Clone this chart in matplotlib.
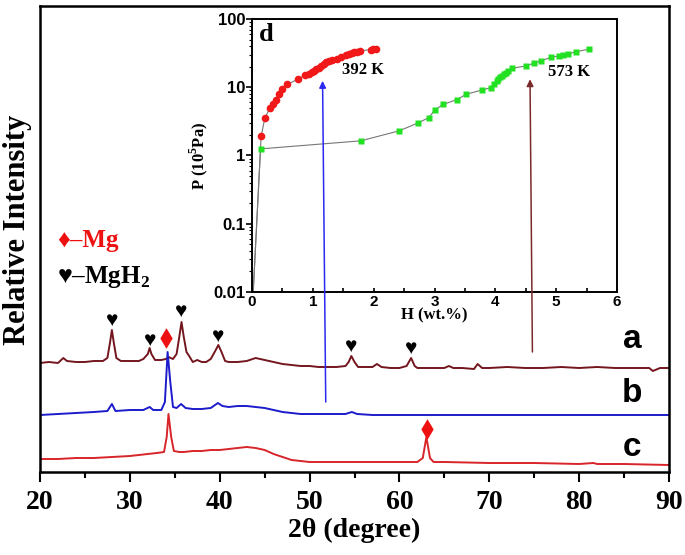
import numpy as np
import matplotlib
matplotlib.use('Agg')
import matplotlib.pyplot as plt
from matplotlib.ticker import MultipleLocator, LogLocator, NullFormatter, FixedLocator

plt.rcParams['mathtext.fontset'] = 'custom'
plt.rcParams['mathtext.rm'] = 'Liberation Serif:bold'
plt.rcParams['mathtext.bf'] = 'Liberation Serif:bold'

SERIF = ['Liberation Serif', 'DejaVu Serif', 'DejaVu Sans']
SANS = ['Liberation Sans', 'DejaVu Sans']

# -----------------------------
# XRD patterns (2theta, relative intensity, arbitrary units)
# -----------------------------
tt_a = [20.0, 21.0, 22.0, 22.6, 23.0, 24.0, 25.0, 26.0, 27.0, 27.5, 27.8, 28.0, 28.2, 28.5,
        29.0, 30.0, 31.0, 31.5, 32.0, 32.2, 32.4, 32.8, 33.5, 34.0, 34.3, 34.8, 35.2, 35.5,
        35.75, 36.0, 36.3, 36.6, 37.0, 37.5, 38.0, 38.5, 39.0, 39.5, 39.85, 40.2, 40.6, 41.0,
        42.0, 43.0, 44.0, 45.0, 46.0, 47.0, 48.0, 49.0, 50.0, 51.0, 52.0, 53.0, 54.0, 54.35,
        54.65, 55.0, 55.4, 56.0, 57.0, 57.5, 58.0, 59.0, 60.0, 60.8, 61.3, 61.7, 62.0, 63.0,
        64.0, 65.0, 65.5, 66.0, 67.0, 68.3, 68.7, 69.2, 70.0, 72.0, 74.0, 76.0, 78.0, 80.0,
        82.0, 84.0, 86.0, 87.8, 88.2, 89.0, 90.0]
int_a = [109, 110, 109, 114, 111, 110, 110, 111, 111, 114, 130, 142, 130, 114,
         111, 111, 111, 113, 118, 124, 118, 112, 112, 113, 115, 113, 118, 135,
         150, 135, 120, 116, 110, 112, 110, 110, 113, 121, 127, 120, 111, 110,
         110, 111, 114, 112, 110, 108, 107, 106, 106, 105, 105, 105, 106, 110,
         116, 110, 105, 105, 105, 108, 105, 104, 104, 106, 114, 106, 104, 104,
         104, 104, 106, 104, 104, 103, 108, 104, 104, 105, 104, 104, 105, 104,
         105, 104, 104, 104, 101, 104, 104]

tt_b = [20.0, 22.0, 24.0, 26.0, 27.5, 28.0, 28.4, 30.0, 31.5, 32.2, 32.6, 33.5, 33.9, 34.2,
        34.5, 34.8, 35.2, 35.7, 36.2, 37.0, 38.0, 39.0, 39.8, 40.3, 41.0, 42.0, 43.0, 44.0,
        45.0, 46.0, 47.0, 48.0, 49.0, 50.0, 52.0, 54.0, 54.7, 55.3, 57.0, 60.0, 65.0, 70.0,
        75.0, 80.0, 85.0, 90.0]
int_b = [57, 58, 59, 60, 61, 68, 61, 62, 62, 65, 62, 62, 70, 120,
         90, 65, 64, 68, 64, 63, 63, 64, 69, 66, 65, 66, 66, 65,
         64, 62, 60, 59, 58, 58, 58, 58, 60, 58, 57, 57, 57, 57,
         57, 57, 57, 57]

tt_c = [20.0, 22.0, 24.0, 26.0, 28.0, 30.0, 31.0, 32.0, 33.0, 33.8, 34.1, 34.3, 34.6, 34.9,
        35.5, 36.0, 37.0, 38.0, 39.0, 40.0, 41.0, 42.0, 43.0, 44.0, 45.0, 46.0, 47.0, 48.0,
        49.0, 50.0, 52.0, 55.0, 58.0, 60.0, 62.0, 62.6, 63.0, 63.4, 63.8, 65.0, 70.0, 75.0,
        80.0, 81.6, 82.0, 85.0, 90.0]
int_c = [13, 13, 14, 14, 15, 16, 17, 18, 19, 20, 35, 58, 35, 21,
         20, 20, 21, 21, 22, 22, 23, 24, 25, 24, 22, 18, 15, 12,
         11, 10, 10, 10, 10, 10, 10, 14, 35, 14, 10, 10, 9, 9,
         8, 9, 8, 8, 7]

# peak markers
heart_x = [28.0, 32.2, 35.75, 39.85, 54.6, 61.3]
heart_y = [151, 131, 160, 135, 125, 123]
diam_x = [34.0, 63.1]
diam_y = [134, 43]

# -----------------------------
# Inset: P-C data (H wt.%, P in 1e5 Pa)
# -----------------------------
h_392 = [0.02, 0.15, 0.21, 0.29, 0.35, 0.40, 0.45, 0.49, 0.58, 0.75, 0.87, 0.93, 0.98, 1.02,
         1.06, 1.10, 1.14, 1.18, 1.21, 1.26, 1.31, 1.39, 1.47, 1.55, 1.60, 1.64, 1.68, 1.72,
         1.77, 1.95, 1.99, 2.04]
p_392 = [0.01, 1.9, 3.5, 4.9, 5.6, 6.6, 7.9, 9.4, 11.0, 13.1, 15.0, 15.8, 16.7, 17.5,
         18.4, 19.3, 20.5, 22.0, 23.5, 24.3, 25.1, 25.8, 27.3, 29.5, 30.5, 31.7, 32.3, 33.0,
         34.2, 35.5, 36.2, 36.2]

h_573 = [0.02, 0.14, 1.79, 2.42, 2.73, 2.91, 3.00, 3.14, 3.37, 3.52, 3.78, 3.93, 3.98, 4.02,
         4.05, 4.08, 4.11, 4.14, 4.17, 4.20, 4.28, 4.50, 4.64, 4.75, 4.91, 5.05, 5.12, 5.19,
         5.32, 5.54]
p_573 = [0.01, 1.25, 1.64, 2.3, 3.0, 3.6, 4.6, 5.6, 6.6, 7.9, 9.1, 9.9, 11.1, 12.4,
         13.1, 13.9, 14.7, 15.5, 16.4, 17.3, 19.0, 20.5, 22.6, 24.4, 27.3, 28.8, 29.6, 30.6,
         33.0, 36.2]

# -----------------------------
# Figure
# -----------------------------
fig = plt.figure(figsize=(6.85, 5.55), dpi=100)
ax = fig.add_axes([40 / 685, 1 - 472 / 555, 629 / 685, 466 / 555])

ax.plot(tt_a, int_a, color='#74161e', lw=1.4)
ax.plot(tt_b, int_b, color='#1c1ccc', lw=1.4)
ax.plot(tt_c, int_c, color='#d8252a', lw=1.4)

for x, y in zip(heart_x, heart_y):
    ax.text(x, y, '\u2665', fontsize=15, family=SERIF, color='black', ha='center', va='center')
ax.scatter(diam_x, diam_y, marker='d', s=110, color='#ee1111', zorder=5, linewidths=0)

ax.text(85.9, 133, 'a', fontsize=24, family=SANS, fontweight='bold', ha='center', va='center')
ax.text(85.9, 78, 'b', fontsize=24, family=SANS, fontweight='bold', ha='center', va='center')
ax.text(85.9, 25, 'c', fontsize=24, family=SANS, fontweight='bold', ha='center', va='center')

ax.set_xlim(20, 90)
ax.set_ylim(0, 466)
ax.set_yticks([])
ax.xaxis.set_major_locator(MultipleLocator(10))
ax.xaxis.set_minor_locator(MultipleLocator(5))
ax.tick_params(axis='x', which='major', direction='out', length=7, width=1.5, pad=6)
ax.tick_params(axis='x', which='minor', direction='out', length=4, width=1.5)
for lab in ax.get_xticklabels():
    lab.set_fontfamily(SERIF)
    lab.set_fontweight('bold')
    lab.set_fontsize(20)
for sp in ax.spines.values():
    sp.set_linewidth(1.8)
ax.set_xlabel('2\u03b8 (degree)', fontsize=20, fontweight='bold', family=SERIF, labelpad=2)
ax.set_ylabel('Relative Intensity', fontsize=22, fontweight='bold', family=SERIF)
ax.yaxis.set_label_coords(-0.012, 0.52)

fig.text(57 / 685, 1 - 240 / 555, '\u2666\u2013Mg', color='#ee1111', fontsize=18,
         fontweight='bold', family=SERIF, ha='left', va='center')
fig.text(57 / 685, 1 - 277 / 555, '\u2665\u2013MgH$_\\mathbf{2}$', color='black', fontsize=18,
         fontweight='bold', family=SERIF, ha='left', va='center')

# -----------------------------
# Inset
# -----------------------------
axins = fig.add_axes([252 / 685, 1 - 292 / 555, 365 / 685, 273 / 555])
axins.plot(h_392, p_392, color='#777777', lw=0.8)
axins.plot(h_573, p_573, color='#777777', lw=0.8)
axins.plot(h_392[1:], p_392[1:], 'o', color='#f01818', ms=5.5, mec='none')
axins.plot(h_573[1:], p_573[1:], 's', color='#22e022', ms=5, mec='none')
axins.set_yscale('log')
axins.set_xlim(0, 6)
axins.set_ylim(0.01, 100)
axins.xaxis.set_major_locator(MultipleLocator(1))
axins.xaxis.set_minor_locator(MultipleLocator(0.5))
axins.yaxis.set_major_locator(FixedLocator([0.01, 0.1, 1, 10, 100]))
axins.yaxis.set_minor_locator(LogLocator(base=10, subs=np.arange(2, 10)))
axins.yaxis.set_minor_formatter(NullFormatter())
axins.set_yticklabels(['0.01', '0.1', '1', '10', '100'])
axins.tick_params(axis='x', which='both', direction='in', length=3, width=1.2, pad=2, labelsize=11)
axins.tick_params(axis='y', which='major', direction='out', length=4, width=1.2, pad=1, labelsize=12)
axins.tick_params(axis='y', which='minor', direction='out', length=2, width=0.8)
for lab in axins.get_xticklabels() + axins.get_yticklabels():
    lab.set_fontfamily(SANS)
    lab.set_fontweight('bold')
for sp in axins.spines.values():
    sp.set_linewidth(1.4)
axins.set_xlabel('H (wt.%)', fontsize=12, fontweight='bold', family=SERIF, labelpad=-1)
axins.set_ylabel('P (10$^\\mathbf{5}$Pa)', fontsize=12, fontweight='bold', family=SERIF, labelpad=2)
axins.text(0.02, 0.985, 'd', transform=axins.transAxes, fontsize=19, fontweight='bold',
           family=SERIF, ha='left', va='top')
axins.text(1.83, 17.8, '392 K', fontsize=12, fontweight='bold', family=SERIF, ha='center', va='center')
axins.text(5.22, 16.6, '573 K', fontsize=12, fontweight='bold', family=SERIF, ha='center', va='center')

# arrows from XRD patterns to isotherms
axins.annotate('', xy=(1.16, 12.4), xycoords='data', xytext=(51.8, 70), textcoords=ax.transData,
               arrowprops=dict(arrowstyle='-|>', color='#2a2af0', lw=1.1, mutation_scale=10,
                               shrinkA=0, shrinkB=0), annotation_clip=False)
axins.annotate('', xy=(4.57, 13.1), xycoords='data', xytext=(74.8, 120), textcoords=ax.transData,
               arrowprops=dict(arrowstyle='-|>', color='#7a2a2a', lw=1.1, mutation_scale=10,
                               shrinkA=0, shrinkB=0), annotation_clip=False)

fig.savefig('out.png', dpi=100)
